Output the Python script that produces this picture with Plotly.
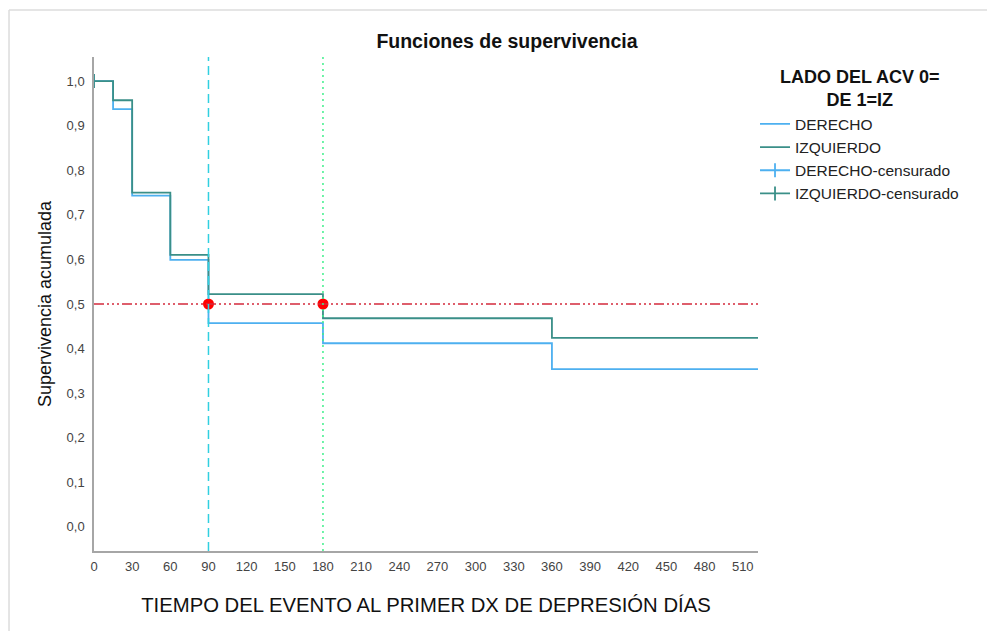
import plotly.graph_objects as go

# ---- data (Kaplan-Meier step functions) ----
times = [0, 15, 30, 60, 90, 180, 360, 525]
derecho_surv = [1.0, 0.937, 0.743, 0.599, 0.457, 0.412, 0.354, 0.354]
izquierdo_surv = [1.0, 0.957, 0.750, 0.610, 0.522, 0.468, 0.424, 0.424]

derecho_cens_t = [0]
derecho_cens_s = [1.0]
izquierdo_cens_t = [0]
izquierdo_cens_s = [1.0]

median_times = [90, 180]          # reference vertical lines
median_level = 0.5                # reference horizontal line
x_ticks = list(range(0, 511, 30))
y_ticks = [i / 10 for i in range(0, 11)]

legend_title_lines = ["LADO DEL ACV 0=", "DE 1=IZ"]

COL_DER = "#4db0f0"
COL_IZQ = "#3a8f88"

fig = go.Figure()
fig.add_trace(go.Scatter(x=times, y=derecho_surv, mode="lines", name="DERECHO",
                         line=dict(color=COL_DER, width=1.8, shape="hv")))
fig.add_trace(go.Scatter(x=times, y=izquierdo_surv, mode="lines", name="IZQUIERDO",
                         line=dict(color=COL_IZQ, width=1.8, shape="hv")))
fig.add_trace(go.Scatter(x=derecho_cens_t, y=derecho_cens_s, mode="lines+markers",
                         name="DERECHO-censurado",
                         line=dict(color=COL_DER, width=1.8),
                         marker=dict(symbol="line-ns", size=10,
                                     line=dict(color=COL_DER, width=1.8))))
fig.add_trace(go.Scatter(x=izquierdo_cens_t, y=izquierdo_cens_s, mode="lines+markers",
                         name="IZQUIERDO-censurado",
                         line=dict(color=COL_IZQ, width=1.8),
                         marker=dict(symbol="line-ns", size=10,
                                     line=dict(color=COL_IZQ, width=1.8))))

# reference lines
fig.add_hline(y=median_level, line=dict(color="#d42a3c", width=1.5,
                                        dash="10px,3px,2px,3px,2px,3px,2px,3px"))
fig.add_vline(x=median_times[0], line=dict(color="#30d0e0", width=1.5, dash="9px,5px"))
fig.add_vline(x=median_times[1], line=dict(color="#3ff08c", width=1.5, dash="2px,4px"))

fig.add_trace(go.Scatter(x=median_times, y=[median_level] * len(median_times),
                         mode="markers", showlegend=False,
                         marker=dict(color="#ff0000", size=11)))

# outer frame (top and left edges)
fig.add_shape(type="line", xref="paper", yref="paper", x0=-0.128, x1=1.4,
              y0=1.0951, y1=1.0951, line=dict(color="#dcdcdc", width=1.5))
fig.add_shape(type="line", xref="paper", yref="paper", x0=-0.128, x1=-0.128,
              y0=1.0951, y1=-0.2, line=dict(color="#dcdcdc", width=1.5))

FONT = "Liberation Sans, Arial, sans-serif"

# legend heading (one text block, two lines)
fig.add_annotation(text="<b>" + "<br>".join(legend_title_lines) + "</b>",
                   xref="paper", yref="paper", x=1.1536, y=0.936,
                   xanchor="center", yanchor="middle", align="center",
                   showarrow=False, borderpad=0,
                   font=dict(size=18, color="#111", family=FONT))

fig.update_layout(
    width=995, height=631,
    margin=dict(l=86, r=245, t=49, b=88),
    paper_bgcolor="white", plot_bgcolor="white",
    separators=",.",
    font=dict(family=FONT, color="#222"),
    title=dict(text="<b>Funciones de supervivencia</b>", xref="container", yref="container",
               x=0.5015, y=0.9477, xanchor="center", yanchor="middle",
               font=dict(size=19.5, color="#111", family=FONT)),
    showlegend=True,
    legend=dict(
        x=0.9955, y=0.898, xanchor="left", yanchor="top",
        bgcolor="rgba(0,0,0,0)",
        font=dict(size=15.5, color="#222", family=FONT),
        tracegroupgap=0,
    ),
    xaxis=dict(range=[0, 522], tickvals=x_ticks, showgrid=False, zeroline=False,
               showline=True, linecolor="#a6a6a6", linewidth=1.5, ticks="",
               tickfont=dict(size=13, color="#444"), automargin=False,
               ticklabelstandoff=3,
               title=dict(text="TIEMPO DEL EVENTO AL PRIMER DX DE DEPRESIÓN DÍAS",
                          font=dict(size=20.3, color="#111"), standoff=24)),
    yaxis=dict(range=[-0.054, 1.054], tickvals=y_ticks, tickformat=".1f",
               showgrid=False, zeroline=False,
               showline=True, linecolor="#a6a6a6", linewidth=1.5, ticks="",
               tickfont=dict(size=13, color="#444"), automargin=False,
               ticklabelstandoff=5,
               title=dict(text="Supervivencia acumulada",
                          font=dict(size=18, color="#111"), standoff=10)),
)

fig.write_html("out.html")
